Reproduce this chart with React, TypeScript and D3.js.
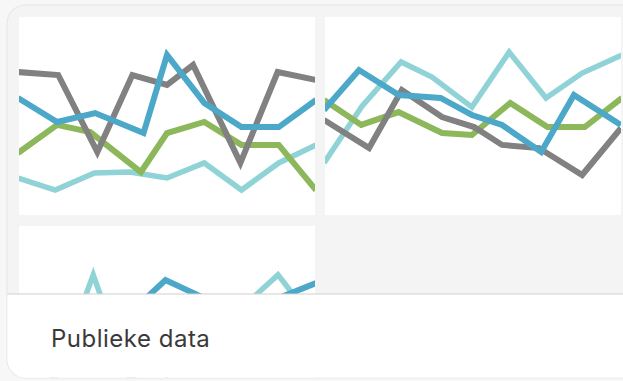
import React from "react";
import * as d3 from "d3";

// ---- data (x = position index 0..8, y = value 0..100) ----
const seriesNames = ["teal", "green", "gray", "blue"];
const seriesColors = ["#8fd3d6", "#8cb75b", "#818181", "#4ca8c8"];

// Tile 1
const t1TealX = [0, 1, 2.05, 3, 4, 5, 6, 7, 8];
const t1TealY = [18.7, 12.6, 21.2, 21.7, 18.7, 26.3, 12.6, 26.3, 35.4];
const t1GreenX = [0, 1.05, 1.94, 3.3, 4, 5, 6, 7, 8];
const t1GreenY = [31.3, 45.5, 41.9, 21.7, 41.4, 47.0, 35.4, 35.4, 12.6];
const t1GrayX = [0, 1.08, 2.13, 3.07, 4, 4.7, 5.97, 6.97, 8];
const t1GrayY = [72.2, 70.7, 31.8, 70.7, 65.7, 75.8, 26.3, 72.2, 68.2];
const t1BlueX = [0, 1.05, 2.07, 3.37, 4, 5, 6, 7, 8];
const t1BlueY = [59.1, 47.0, 51.5, 41.4, 80.8, 56.6, 44.4, 44.4, 58.1];

// Tile 2
const t2TealX = [0, 1.02, 2.07, 2.9, 3.97, 4.97, 5.96, 6.93, 8];
const t2TealY = [26.3, 55.0, 77.3, 69.7, 54.5, 82.3, 59.1, 71.7, 80.8];
const t2GreenX = [0, 1, 2, 3.17, 3.97, 5, 6, 7, 8];
const t2GreenY = [58.1, 45.5, 52.0, 41.4, 40.4, 56.6, 44.4, 44.4, 59.1];
const t2GrayX = [0, 1.21, 2.09, 3.17, 4.03, 4.78, 5.77, 6.93, 7.97];
const t2GrayY = [48.0, 33.8, 63.1, 49.5, 44.4, 35.4, 33.8, 20.2, 43.9];
const t2BlueX = [0, 0.94, 2.01, 3.13, 3.97, 4.78, 5.83, 6.71, 7.97];
const t2BlueY = [53.0, 73.2, 60.6, 59.1, 50.5, 45.5, 31.8, 60.6, 45.5];

// Tile 3 (mostly hidden under the footer)
const t3TealX = [0, 1, 2.02, 3, 4, 5, 6, 6.98, 8];
const t3TealY = [40, 23, 75.3, 23, 35, 30, 58.6, 75.3, 50.5];
const t3GreenX = [0, 1, 2, 3, 4, 5, 6, 7, 8];
const t3GreenY = [30, 35, 28, 40, 25, 33, 30, 38, 45];
const t3GrayX = [0, 1, 2, 3, 4, 5, 6, 7, 8];
const t3GrayY = [45, 40, 50, 35, 42, 38, 48, 30, 40];
const t3BlueX = [0, 1, 2, 3, 3.96, 5, 6, 7, 8];
const t3BlueY = [55, 50, 45, 56, 72.7, 63.6, 40, 63.6, 71.2];

const tiles = [
  { left: 19, top: 17, xs: [t1TealX, t1GreenX, t1GrayX, t1BlueX], ys: [t1TealY, t1GreenY, t1GrayY, t1BlueY] },
  { left: 325, top: 17, xs: [t2TealX, t2GreenX, t2GrayX, t2BlueX], ys: [t2TealY, t2GreenY, t2GrayY, t2BlueY] },
  { left: 19, top: 226, xs: [t3TealX, t3GreenX, t3GrayX, t3BlueX], ys: [t3TealY, t3GreenY, t3GrayY, t3BlueY] },
];

const footerLabel = "Publieke data";

const W = 623;
const H = 381;
const TILE_W = 296;
const TILE_H = 198;

export default function App() {
  const x = d3.scaleLinear().domain([0, 8]).range([-1, TILE_W + 1]);
  const y = d3.scaleLinear().domain([0, 100]).range([TILE_H, 0]);
  const line = d3
    .line<[number, number]>()
    .x((d) => x(d[0]))
    .y((d) => y(d[1]));

  return (
    <svg
      width={W}
      height={H}
      style={{ position: "absolute", left: 0, top: 0, display: "block" }}
    >
      <defs>
        <clipPath id="cardClip">
          <rect x={7.5} y={5.5} width={640} height={372} rx={18} />
        </clipPath>
        {tiles.map((t, i) => (
          <clipPath id={`tileClip${i}`} key={i}>
            <rect x={0} y={0} width={TILE_W} height={TILE_H} />
          </clipPath>
        ))}
      </defs>
      <rect x={0} y={0} width={W} height={H} fill="#f7f7f8" />
      <rect x={6.5} y={4.5} width={642} height={374} rx={19} fill="#e6e6ea" />
      <g clipPath="url(#cardClip)">
        <rect x={7} y={5} width={640} height={373} fill="#f4f4f4" />
        {tiles.map((t, ti) => (
          <g key={ti} transform={`translate(${t.left},${t.top})`}>
            <rect x={0} y={0} width={TILE_W} height={TILE_H} fill="#ffffff" />
            <g clipPath={`url(#tileClip${ti})`}>
              {seriesNames.map((name, si) => {
                const pts: [number, number][] = t.xs[si].map((xv, k) => [xv, t.ys[si][k]]);
                return (
                  <path
                    key={name}
                    d={line(pts) || ""}
                    fill="none"
                    stroke={seriesColors[si]}
                    strokeWidth={name === "teal" ? 5.5 : 6}
                    strokeLinejoin="miter"
                    strokeLinecap="butt"
                  />
                );
              })}
            </g>
          </g>
        ))}
        <rect x={7} y={294} width={640} height={90} fill="#ffffff" />
        <line x1={7} x2={640} y1={294} y2={294} stroke="#cfcfcf" strokeWidth={1.2} />
        <text
          x={51}
          y={347}
          fontFamily="Inter, 'Noto Sans', sans-serif"
          fontSize={24}
          letterSpacing={0.5}
          fill="#3a3a3a"
        >
          {footerLabel}
        </text>
      </g>
    </svg>
  );
}
